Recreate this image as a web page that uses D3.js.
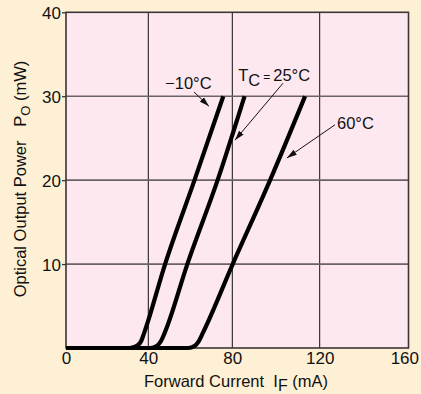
<!DOCTYPE html>
<html><head><meta charset="utf-8">
<script src="https://cdn.jsdelivr.net/npm/d3@7"></script>
<style>body{margin:0;background:#FEF0D5;overflow:hidden}svg{display:block}text{font-family:"Liberation Sans",Arial,Helvetica,sans-serif;fill:#111;white-space:pre}</style>
</head><body><svg id="c" width="421" height="394"></svg>
<script>
// ---- data ----
const xTicks = [0, 40, 80, 120, 160];
const yTicks = [10, 20, 30, 40];
const curveMinus10 = [[0,0],[31,0],[34.5,0.25],[36.5,0.8],[38,1.8],[48,10],[62,20],[75.7,30]];
const curve25 = [[0,0],[41,0],[44,0.25],[46,0.8],[47.8,1.8],[58.6,10],[73,20],[85.6,30]];
const curve60 = [[0,0],[59,0],[62,0.25],[64,0.8],[66,1.8],[80.2,10],[97.3,20],[113.3,30]];
const seriesNames = ["−10°C", "25°C", "60°C"];
// annotation anchors (data units): text position, arrow start, arrow end
const annMinus10 = {text:[48,30.85], from:[61.8,30.5], to:[68.9,28.8]};
const ann25 = {text:[82.7,31.8], from:[103.2,31.55], to:[81.2,24.76]};
const ann60 = {text:[127.8,26.1], from:[126.9,26.6], to:[105,22.65]};

// ---- layout ----
const svg = d3.select("#c");
const x = d3.scaleLinear().domain([0,40,80,120,160]).range([66,148.3,232.3,319.7,408.5]);
const y = d3.scaleLinear().domain([0,40]).range([348,12.3]);

svg.append("rect").attr("width",421).attr("height",394).attr("fill","#FEF0D5");
svg.append("rect").attr("x",x(0)).attr("y",y(40)).attr("width",x(160)-x(0)).attr("height",y(0)-y(40)).attr("fill","#FDE8F0");

// grid
svg.append("g").selectAll("line").data([40,80,120]).join("line")
  .attr("x1",d=>x(d)).attr("x2",d=>x(d)).attr("y1",y(0)).attr("y2",y(40))
  .attr("stroke","#111").attr("stroke-width",1);
svg.append("g").selectAll("line").data([10,20,30]).join("line")
  .attr("x1",x(0)).attr("x2",x(160)).attr("y1",d=>y(d)).attr("y2",d=>y(d))
  .attr("stroke","#6a6266").attr("stroke-width",1.6);

// axes
const yAxis = svg.append("g").attr("transform",`translate(${x(0)},0)`)
  .call(d3.axisLeft(y).tickValues(yTicks).tickSize(4).tickPadding(1).tickFormat(d3.format("d")));
yAxis.select(".domain").remove();
yAxis.selectAll("line").attr("stroke","#3d3438").attr("stroke-width",1.3);
yAxis.selectAll("text").attr("font-size",17).attr("dy","0.36em").attr("fill","#111");

const xAxis = svg.append("g").attr("transform",`translate(0,${y(0)})`)
  .call(d3.axisBottom(x).tickValues(xTicks).tickSize(0).tickPadding(4).tickFormat(d3.format("d")));
xAxis.select(".domain").remove();
xAxis.selectAll("text").attr("font-size",17).attr("fill","#111")
  .attr("text-anchor",d=>d===160?"end":"middle").attr("dx",d=>d===160?"10":"0");

// frame
svg.append("rect").attr("x",x(0)).attr("y",y(40)).attr("width",x(160)-x(0)).attr("height",y(0)-y(40))
  .attr("fill","none").attr("stroke","#3d3438").attr("stroke-width",1.6);

// curves
const line = d3.line().x(d=>x(d[0])).y(d=>y(d[1])).curve(d3.curveMonotoneX);
[curveMinus10, curve25, curve60].forEach(c=>{
  svg.append("path").attr("d",line(c)).attr("fill","none").attr("stroke","#000")
    .attr("stroke-width",4.2).attr("stroke-linejoin","round");
});

// arrow marker
svg.append("defs").append("marker").attr("id","ah").attr("viewBox","0 0 10 6")
  .attr("refX",10).attr("refY",3).attr("markerWidth",10).attr("markerHeight",6)
  .attr("markerUnits","userSpaceOnUse").attr("orient","auto")
  .append("path").attr("d","M0,0L10,3L0,6Z").attr("fill","#111");

[annMinus10, ann25, ann60].forEach(a=>{
  svg.append("line").attr("x1",x(a.from[0])).attr("y1",y(a.from[1]))
    .attr("x2",x(a.to[0])).attr("y2",y(a.to[1])).attr("stroke","#111").attr("stroke-width",1)
    .attr("marker-end","url(#ah)");
});

svg.append("text").attr("x",x(annMinus10.text[0])).attr("y",y(annMinus10.text[1]))
  .attr("font-size",16.5).text(seriesNames[0]);
const t25 = svg.append("text").attr("x",x(ann25.text[0])).attr("y",y(ann25.text[1])).attr("font-size",16.5);
t25.append("tspan").text("T");
t25.append("tspan").attr("dy",5).text("C");
t25.append("tspan").attr("dy",-5).attr("font-size",12).attr("dx",3).text("=");
t25.append("tspan").attr("dx",3).text(seriesNames[1]);
svg.append("text").attr("x",x(ann60.text[0])).attr("y",y(ann60.text[1]))
  .attr("font-size",16.5).text(seriesNames[2]);

// axis titles
const xt = svg.append("text").attr("x",236).attr("y",387).attr("text-anchor","middle").attr("font-size",16.5);
xt.append("tspan").text("Forward Current  I");
xt.append("tspan").attr("dy",4).attr("font-size",16).text("F");
xt.append("tspan").attr("dy",-4).text(" (mA)");

const yt = svg.append("text").attr("transform","translate(26,179) rotate(-90)").attr("text-anchor","middle").attr("font-size",16.5);
yt.append("tspan").text("Optical Output Power   P");
yt.append("tspan").attr("dy",4).attr("font-size",13).text("O");
yt.append("tspan").attr("dy",-4).text(" (mW)");
</script>
</body></html>
